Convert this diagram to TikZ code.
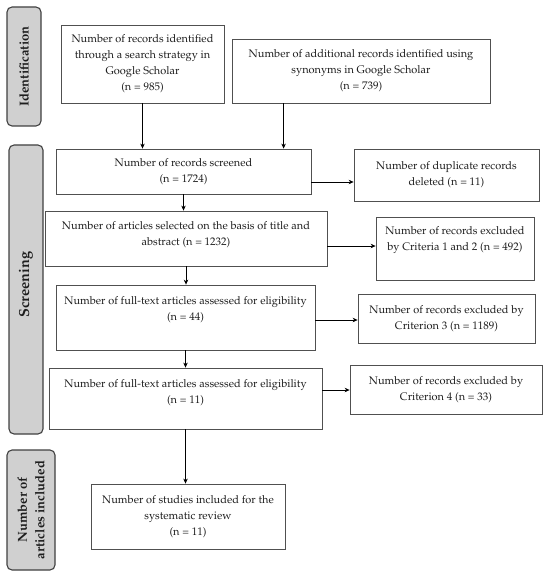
\documentclass[tikz,border=0pt]{standalone}
\usepackage[T1]{fontenc}
\usepackage{mathpazo}
\usetikzlibrary{arrows.meta}
\definecolor{boxline}{HTML}{505050}
\definecolor{sidefill}{HTML}{D0D0D0}
\definecolor{sideline}{HTML}{404040}
\definecolor{txtcol}{HTML}{1E1E1E}
\tikzset{
  box/.style={draw=boxline, line width=0.8pt, rectangle, align=center, text=txtcol,
    font=\fontsize{11}{16}\selectfont, inner sep=0pt},
  toptxt/.style={align=center, text=txtcol, font=\fontsize{11}{16}\selectfont, anchor=north, inner sep=0pt},
  side/.style={draw=sideline, fill=sidefill, line width=1.1pt, rounded corners=5pt, inner sep=0pt},
  sidetxt/.style={rotate=90, align=center, text=txtcol, inner sep=0pt},
  arr/.style={-{Stealth[length=5pt,width=4.5pt]}, line width=0.7pt, draw=black},
}
\begin{document}
\begin{tikzpicture}[x=1pt,y=-1pt]
\useasboundingbox (0,0) rectangle (550,577);
% sidebars
\node[side, minimum width=34pt, minimum height=119pt] (sid) at (24,66.5) {};
\node[sidetxt, font=\fontsize{13}{16}\selectfont\bfseries] (sidT) at (sid.center) {Identification};
\node[side, minimum width=34pt, minimum height=289pt] (sscr) at (26,289.5) {};
\node[sidetxt, font=\fontsize{14.5}{17}\selectfont\bfseries] (sscrT) at ([yshift=5pt]sscr.center) {Screening};
\node[side, minimum width=48pt, minimum height=120pt] (sinc) at (31,510) {};
\node[sidetxt, font=\fontsize{13}{17.5}\selectfont\bfseries] (sincT) at (sinc.center) {Number of\\articles included};
% boxes
\node[box, minimum width=163pt, minimum height=78pt] (A) at (142.5,64)
  {Number of records identified\\through a search strategy in\\Google Scholar\\(n = 985)};
\node[box, minimum width=258pt, minimum height=64pt] (B) at (361,71)
  {Number of additional records identified using\\synonyms in Google Scholar\\(n = 739)};
\node[box, minimum width=255pt, minimum height=45pt] (scr) at (183.5,171.5)
  {Number of records screened\\(n = 1724)};
\node[box, minimum width=185pt, minimum height=52pt] (dup) at (446.5,175)
  {Number of duplicate records\\deleted (n = 11)};
\node[box, minimum width=282pt, minimum height=55pt] (art) at (186,238.5) {};
\node[toptxt] (artT) at ([yshift=-11pt]art.north) {Number of articles selected on the basis of title and\\abstract (n = 1232)};
\node[box, minimum width=158pt, minimum height=63pt] (c12) at (455,248.5) {};
\node[toptxt] (c12T) at ([yshift=-10pt]c12.north) {Number of records excluded\\by Criteria 1 and 2 (n = 492)};
\node[box, minimum width=259pt, minimum height=65pt] (f44) at (185.5,317.5) {};
\node[toptxt] (f44T) at ([yshift=-12pt]f44.north) {Number of full-text articles assessed for eligibility\\(n = 44)};
\node[box, minimum width=177pt, minimum height=49pt] (c3) at (446.5,318.5)
  {Number of records excluded by\\Criterion 3 (n = 1189)};
\node[box, minimum width=273pt, minimum height=61pt] (f11) at (185.5,398.5) {};
\node[toptxt] (f11T) at ([yshift=-12pt]f11.north) {Number of full-text articles assessed for eligibility\\(n = 11)};
\node[box, minimum width=192pt, minimum height=49pt] (c4) at (446,389.5)
  {Number of records excluded by\\Criterion 4 (n = 33)};
\node[box, minimum width=194pt, minimum height=65pt] (std) at (188,516.5)
  {Number of studies included for the\\systematic review\\(n = 11)};
% arrows
\draw[arr] (A.south) -- (A.south |- scr.north);
\draw[arr] ([xshift=52pt]B.south west) -- ([xshift=52pt]B.south west |- scr.north);
\draw[arr] (scr.south) -- (scr.south |- art.north);
\draw[arr] (art.south) -- (art.south |- f44.north);
\draw[arr] (f44.south) -- (f44.south |- f11.north);
\draw[arr] (f11.south) -- (f11.south |- std.north);
\draw[arr] ([yshift=-10.5pt]scr.east) -- ([yshift=-10.5pt]scr.east -| dup.west);
\draw[arr] ([yshift=-7.5pt]art.east) -- ([yshift=-7.5pt]art.east -| c12.west);
\draw[arr] ([yshift=-2.5pt]f44.east) -- ([yshift=-2.5pt]f44.east -| c3.west);
\draw[arr] ([yshift=8.5pt]f11.east) -- ([yshift=8.5pt]f11.east -| c4.west);
\end{tikzpicture}
\end{document}
